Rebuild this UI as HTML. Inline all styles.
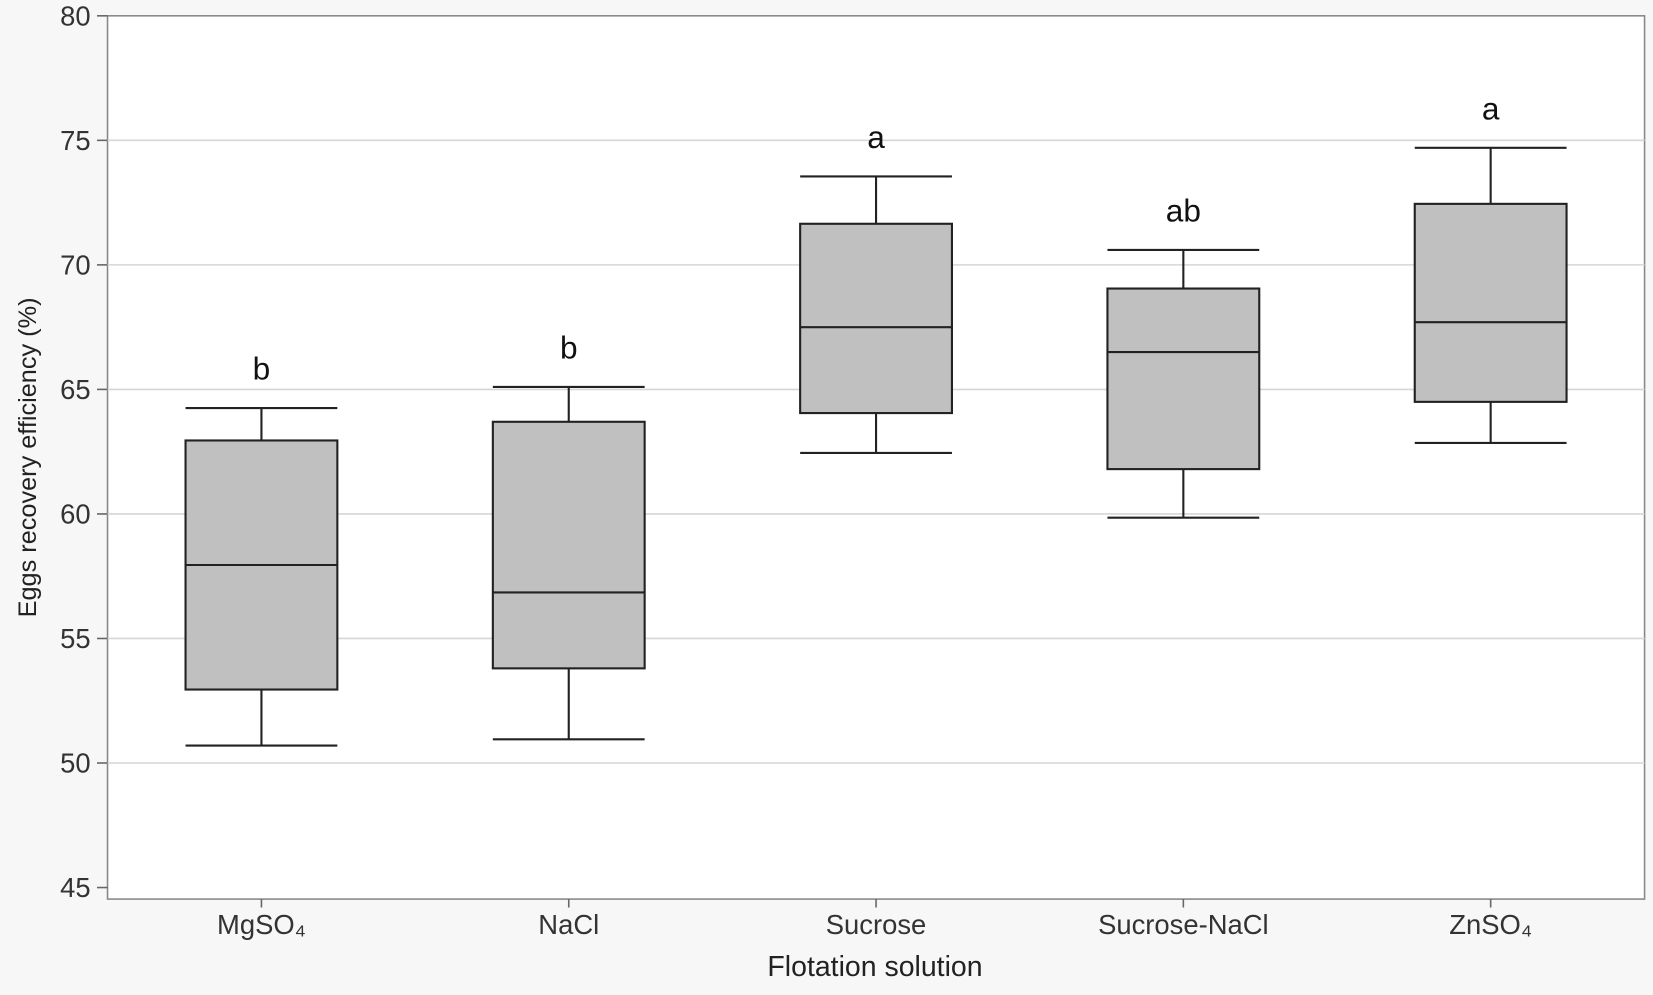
<!DOCTYPE html>
<html><head><meta charset="utf-8"><style>
html,body{margin:0;padding:0;background:#fff;}
svg{display:block;font-family:"Liberation Sans",sans-serif;}
</style></head><body>
<svg width="1653" height="995" viewBox="0 0 1568 944" preserveAspectRatio="none" id="chart">
<rect x="0" y="0" width="1568" height="944" fill="#f7f7f7"/>
<rect x="102" y="15" width="1458" height="838" fill="#fff" stroke="#888" stroke-width="1.5"/>
<g id="grid"></g><g id="boxes"></g><g id="axes"></g>
<text transform="translate(34,434) rotate(-90)" text-anchor="middle" font-size="24" fill="#222">Eggs recovery efficiency (%)</text>
<text x="830" y="926" text-anchor="middle" font-size="27" fill="#222">Flotation solution</text>
</svg>
<script>
const categories=["MgSO\u2084","NaCl","Sucrose","Sucrose-NaCl","ZnSO\u2084"];
const mins=[50.7,50.95,62.45,59.85,62.85];
const q1s=[52.95,53.8,64.05,61.8,64.5];
const medians=[57.95,56.85,67.5,66.5,67.7];
const q3s=[62.95,63.7,71.65,69.05,72.45];
const maxs=[64.25,65.1,73.55,70.6,74.7];
const letters=["b","b","a","ab","a"];
const yTicks=[45,50,55,60,65,70,75,80];
const NS="http://www.w3.org/2000/svg";
const y=v=>15+(80-v)*23.63;
const x=i=>248+i*291.5;
const bw=144;
function mk(tag,attrs,parent){const e=document.createElementNS(NS,tag);for(const k in attrs)e.setAttribute(k,attrs[k]);parent.appendChild(e);return e;}
const grid=document.getElementById('grid'),axes=document.getElementById('axes'),boxes=document.getElementById('boxes');
yTicks.forEach(t=>{
  if(t>45&&t<80){const g=mk('line',{x1:102,x2:1560,y1:y(t),y2:y(t),stroke:'#d6d6d6','stroke-width':1.5},grid);
  
  }
  const tk=mk('line',{x1:92,x2:102,y1:y(t),y2:y(t),stroke:'#666','stroke-width':1.5},axes);
  
  
  const l=mk('text',{x:86,y:y(t)+9,'text-anchor':'end','font-size':26,fill:'#333'},axes);
  l.textContent=t;
  
  
});
categories.forEach((c,i)=>{
  const cx=x(i);
  const g=mk('g',{},boxes);
  
  
  const s={stroke:'#222','stroke-width':2};
  mk('line',Object.assign({x1:cx,x2:cx,y1:y(maxs[i]),y2:y(q3s[i])},s),g);
  mk('line',Object.assign({x1:cx,x2:cx,y1:y(q1s[i]),y2:y(mins[i])},s),g);
  mk('line',Object.assign({x1:cx-bw/2,x2:cx+bw/2,y1:y(maxs[i]),y2:y(maxs[i])},s),g);
  mk('line',Object.assign({x1:cx-bw/2,x2:cx+bw/2,y1:y(mins[i]),y2:y(mins[i])},s),g);
  mk('rect',Object.assign({x:cx-bw/2,y:y(q3s[i]),width:bw,height:y(q1s[i])-y(q3s[i]),fill:'#c0c0c0'},s),g);
  mk('line',Object.assign({x1:cx-bw/2,x2:cx+bw/2,y1:y(medians[i]),y2:y(medians[i])},s),g);
  const lt=mk('text',{x:cx,y:y(maxs[i])-27,'text-anchor':'middle','font-size':30,fill:'#111'},g);
  lt.textContent=letters[i];
  
  
  const xl=mk('text',{x:cx,y:886,'text-anchor':'middle','font-size':26,fill:'#333'},axes);
  xl.textContent=c;
  
  
  const xt=mk('line',{x1:cx,x2:cx,y1:853,y2:861,stroke:'#666','stroke-width':1.5},axes);
  
  
});
</script>
</body></html>
